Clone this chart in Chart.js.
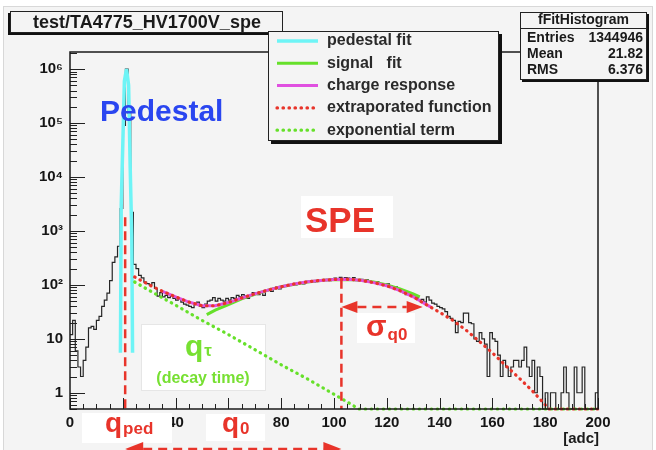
<!DOCTYPE html>
<html>
<head>
<meta charset="utf-8">
<script src="https://cdn.jsdelivr.net/npm/chart.js@4.4.1/dist/chart.umd.min.js"></script>
<style>
  html, body { margin: 0; padding: 0; background: #fff; }
</style>
</head>
<body>
<canvas id="myChart" width="656" height="450"></canvas>
<script>
// ---- data ----
// histogram, 1 adc bins from 0 to 200
const hist = [
  12, 22, 6, 3, 2, 4, 7, 16, 17, 15,
  22, 26, 40, 52, 70, 120, 260, 330, 520, 2600,
  90000, 1000000, 150000, 2200, 240, 200, 150, 135, 112, 105,
  100, 110, 86, 62, 72, 60, 64, 58, 62, 56,
  52, 54, 48, 44, 42, 40, 38, 44, 48, 40,
  38, 44, 50, 52, 58, 50, 56, 52, 50, 56,
  52, 58, 56, 64, 60, 66, 62, 56, 66, 72,
  70, 66, 74, 64, 78, 80, 76, 88, 92, 84,
  90, 96, 94, 100, 104, 100, 108, 110, 104, 112,
  116, 118, 112, 120, 116, 122, 124, 126, 120, 130,
  134, 128, 138, 132, 136, 134, 128, 136, 124, 120,
  126, 118, 124, 116, 112, 110, 114, 104, 106, 100,
  104, 96, 90, 92, 84, 80, 72, 66, 68, 64,
  66, 58, 52, 54, 48, 60, 52, 46, 44, 40,
  38, 36, 32, 26, 24, 22, 13, 21, 20, 30,
  30, 20, 19, 10, 9, 13, 10, 8, 2, 13,
  10, 9, 5, 2, 4, 3, 2, 3, 4, 4,
  3, 4, 7, 3, 2, 4, 1, 3, 2, 0,
  1, 0, 1, 1, 0, 0, 1, 3, 1, 0,
  0, 3, 1, 1, 3, 0, 0, 0, 0, 1
];
const binWidth = 1;

// pedestal fit (cyan)
const pedX = [19.1, 19.4, 20.0, 20.6, 21.4, 22.2, 22.8, 23.4, 23.7];
const pedY = [5.5, 3000, 40000, 600000, 1000000, 500000, 15000, 800, 5.5];

// signal fit (green solid)
const sigX = [51.8, 55, 60, 65, 70, 75, 80, 85, 90, 95, 100, 105, 110, 115, 120, 125, 130, 132.5];
const sigY = [28, 34, 43, 55, 67, 80, 92, 103, 113, 120, 125, 126, 122, 113, 100, 84, 68, 60];

// charge response (magenta)
const chgX = [35, 40, 45, 50, 55, 60, 65, 70, 75, 80, 85, 90, 95, 100, 105, 110, 115, 120, 125, 130, 135, 137];
const chgY = [76, 60, 48, 41, 41, 47, 57, 68, 80, 92, 104, 114, 121, 126, 127, 122, 110, 96, 78, 60, 43, 38];

// extraporated function (red dotted)
const extX = [24.5, 30, 35, 40, 45, 50, 55, 60, 65, 70, 75, 80, 85, 90, 95, 100, 105, 110, 115, 120,
              125, 130, 135, 140, 145, 150, 155, 160, 165, 170, 175, 180, 181.5, 200];
const extY = [140, 100, 76, 60, 48, 41, 41, 47, 57, 68, 80, 92, 104, 114, 121, 126, 127, 122, 110, 96,
              78, 60, 43, 31, 22, 14.5, 9, 5.5, 3.2, 1.9, 1.1, 0.6, 0.5, 0.5];

// exponential term (green dotted)
const expX = [24.5, 30, 40, 50, 60, 70, 80, 90, 100, 109.5, 200];
const expY = [113, 79, 42, 22, 12, 6.3, 3.3, 1.8, 0.94, 0.5, 0.5];

// marker lines
const qPed = 20.9, qPedTop = 1800;
const q0 = 102.8, q0Top = 124;
const sigmaQ0 = 30.8, sigmaLevel = 39;

// axes
const xMin = 0, xMax = 200, xMajor = 20, xMinor = 5;
const yMin = 0.5, yMax = 2.07e6;
const yTickValues = [1, 10, 100, 1000, 10000, 100000, 1000000];
const yTickLabels = ['1', '10', '10\u00b2', '10\u00b3', '10\u2074', '10\u2075', '10\u2076'];

const legendLabels = ['pedestal fit', 'signal   fit', 'charge response', 'extraporated function', 'exponential term'];
const statsRows = [['Entries', '1344946'], ['Mean', '21.82'], ['RMS', '6.376']];

const FONT = "'Liberation Sans', Arial, Helvetica, sans-serif";
const RED = '#e8342a';
const GREEN = '#66e02a';

function pts(xs, ys) {
  return xs.map((x, i) => ({ x: x, y: ys[i] }));
}

// histogram as steps from the low edge of each bin, empty bins sit on the frame bottom
const histPoints = hist.map((v, i) => ({ x: xMin + i * binWidth, y: Math.max(v, yMin) }));
histPoints.push({ x: xMin + hist.length * binWidth, y: Math.max(hist[hist.length - 1], yMin) });

function arrowHead(ctx, tipX, y, dir, len, half) {
  ctx.beginPath();
  ctx.moveTo(tipX, y);
  ctx.lineTo(tipX + dir * len, y - half);
  ctx.lineTo(tipX + dir * len, y + half);
  ctx.closePath();
  ctx.fill();
}

function dashedArrow(ctx, x1, x2, y, len, half) {
  ctx.save();
  ctx.strokeStyle = RED;
  ctx.fillStyle = RED;
  ctx.lineWidth = 2.5;
  ctx.setLineDash([9, 6]);
  ctx.beginPath();
  ctx.moveTo(x1 + len, y);
  ctx.lineTo(x2 - len, y);
  ctx.stroke();
  arrowHead(ctx, x1, y, 1, len, half);
  arrowHead(ctx, x2, y, -1, len, half);
  ctx.restore();
}

function subText(ctx, big, small, x, y, bigSize, smallSize, color, drop) {
  ctx.fillStyle = color;
  ctx.textBaseline = 'alphabetic';
  ctx.textAlign = 'left';
  ctx.font = 'bold ' + bigSize + 'px ' + FONT;
  ctx.fillText(big, x, y);
  const w = ctx.measureText(big).width;
  ctx.font = 'bold ' + smallSize + 'px ' + FONT;
  ctx.fillText(small, x + w + 1, y + drop);
}

const rootDeco = {
  id: 'rootDeco',
  beforeDraw(chart) {
    const ctx = chart.ctx;
    ctx.save();
    ctx.fillStyle = '#ffffff';
    ctx.fillRect(0, 0, chart.width, chart.height);
    ctx.fillStyle = '#f4f4f4';
    ctx.fillRect(3, 6, 650, 444);
    ctx.strokeStyle = '#d8d8d8';
    ctx.lineWidth = 1;
    ctx.strokeRect(3.5, 6.5, 649, 444);
    ctx.restore();
  },
  beforeDatasetsDraw(chart) {
    // white box behind the decay time label
    const ctx = chart.ctx;
    ctx.save();
    ctx.fillStyle = '#ffffff';
    ctx.fillRect(141, 324, 124, 66);
    ctx.strokeStyle = '#e6e6e6';
    ctx.strokeRect(141.5, 324.5, 124, 66);
    ctx.restore();
  },
  afterDatasetsDraw(chart) {
    const ctx = chart.ctx;
    const xs = chart.scales.x, ys = chart.scales.y, a = chart.chartArea;
    ctx.save();
    // dashed marker lines
    ctx.strokeStyle = RED;
    ctx.lineWidth = 2.5;
    ctx.setLineDash([9, 5]);
    [[qPed, qPedTop], [q0, q0Top]].forEach(([xv, top]) => {
      const px = xs.getPixelForValue(xv);
      ctx.beginPath();
      ctx.moveTo(px, ys.getPixelForValue(top));
      ctx.lineTo(px, a.bottom);
      ctx.stroke();
    });
    ctx.restore();
    dashedArrow(ctx, xs.getPixelForValue(q0), xs.getPixelForValue(q0 + sigmaQ0), ys.getPixelForValue(sigmaLevel), 16, 6);

    // frame and ROOT style inner ticks
    ctx.save();
    ctx.strokeStyle = '#222';
    ctx.lineWidth = 1;
    for (let v = xMin; v <= xMax; v += xMinor) {
      const px = Math.round(xs.getPixelForValue(v)) + 0.5;
      const len = v % xMajor === 0 ? 11 : 5;
      ctx.beginPath();
      ctx.moveTo(px, a.bottom);
      ctx.lineTo(px, a.bottom - len);
      ctx.stroke();
    }
    for (let k = -1; k <= 6; k++) {
      for (let m = 1; m <= 9; m++) {
        const v = m * Math.pow(10, k);
        if (v < yMin || v > yMax) continue;
        const py = Math.round(ys.getPixelForValue(v)) + 0.5;
        const len = m === 1 ? 15 : 7;
        ctx.beginPath();
        ctx.moveTo(a.left, py);
        ctx.lineTo(a.left + len, py);
        ctx.stroke();
      }
    }
    ctx.lineWidth = 1.5;
    ctx.strokeStyle = '#1a1a1a';
    ctx.strokeRect(a.left, a.top, a.right - a.left, a.bottom - a.top);
    ctx.restore();
  },
  afterDraw(chart) {
    const ctx = chart.ctx;
    const xs = chart.scales.x;
    ctx.save();

    // title box
    ctx.fillStyle = '#111';
    ctx.fillRect(8, 13, 273, 22);
    ctx.fillStyle = '#f4f4f4';
    ctx.fillRect(10, 11, 273, 22);
    ctx.strokeStyle = '#222';
    ctx.lineWidth = 1;
    ctx.strokeRect(10.5, 11.5, 272, 21);
    ctx.fillStyle = '#1a1a1a';
    ctx.font = 'bold 18px ' + FONT;
    ctx.textAlign = 'center';
    ctx.textBaseline = 'middle';
    ctx.fillText('test/TA4775_HV1700V_spe', 147, 23);

    // stats box
    const sx = 520, sy = 12, sw = 127, sh = 68;
    ctx.fillStyle = '#111';
    ctx.fillRect(sx + 2, sy + 2, sw, sh);
    ctx.fillStyle = '#f4f4f4';
    ctx.fillRect(sx, sy, sw, sh);
    ctx.strokeRect(sx + 0.5, sy + 0.5, sw - 1, sh - 1);
    ctx.beginPath();
    ctx.moveTo(sx, sy + 16.5);
    ctx.lineTo(sx + sw, sy + 16.5);
    ctx.stroke();
    ctx.fillStyle = '#1a1a1a';
    ctx.font = 'bold 14px ' + FONT;
    ctx.fillText('fFitHistogram', sx + sw / 2, sy + 8.5);
    statsRows.forEach((r, i) => {
      const y = sy + 26 + i * 16;
      ctx.textAlign = 'left';
      ctx.fillText(r[0], sx + 7, y);
      ctx.textAlign = 'right';
      ctx.fillText(r[1], sx + sw - 4, y);
    });

    // legend box
    const bx = 268, by = 31, bw = 231, bh = 110;
    ctx.fillStyle = '#111';
    ctx.fillRect(bx + 3, by + 3, bw, bh);
    ctx.fillStyle = '#f4f4f4';
    ctx.fillRect(bx, by, bw, bh);
    ctx.strokeStyle = '#222';
    ctx.lineWidth = 1;
    ctx.strokeRect(bx + 0.5, by + 0.5, bw - 1, bh - 1);
    legendLabels.forEach((lab, i) => {
      const ds = chart.data.datasets.find(d => d.label === lab);
      const y = by + 10 + i * 22.3;
      ctx.save();
      ctx.strokeStyle = ds.borderColor;
      ctx.lineWidth = ds.borderWidth;
      ctx.setLineDash(ds.borderDash || []);
      ctx.lineCap = ds.borderCapStyle || 'butt';
      ctx.beginPath();
      ctx.moveTo(bx + 9, y);
      ctx.lineTo(bx + 50, y);
      ctx.stroke();
      ctx.restore();
      ctx.fillStyle = '#2a2a2a';
      ctx.font = 'bold 16px ' + FONT;
      ctx.textAlign = 'left';
      ctx.textBaseline = 'middle';
      ctx.fillText(lab, bx + 59, y);
    });

    // axis title
    ctx.fillStyle = '#1a1a1a';
    ctx.font = 'bold 15px ' + FONT;
    ctx.textAlign = 'right';
    ctx.textBaseline = 'alphabetic';
    ctx.fillText('[adc]', 599, 443);

    // annotations
    ctx.fillStyle = '#2a46f0';
    ctx.font = 'bold 30px ' + FONT;
    ctx.textAlign = 'left';
    ctx.fillText('Pedestal', 100, 121);

    ctx.fillStyle = '#ffffff';
    ctx.fillRect(301, 196, 92, 42);
    ctx.fillStyle = RED;
    ctx.font = 'bold 35px ' + FONT;
    ctx.fillText('SPE', 305, 232);

    ctx.fillStyle = '#ffffff';
    ctx.fillRect(82, 413, 90, 30);
    subText(ctx, 'q', 'ped', 105, 432, 28, 17, RED, 2);

    ctx.fillStyle = '#ffffff';
    ctx.fillRect(206, 414, 59, 27);
    subText(ctx, 'q', '0', 222, 432, 28, 17, RED, 2);

    ctx.fillStyle = '#ffffff';
    ctx.fillRect(357, 313, 58, 30);
    subText(ctx, '\u03c3', 'q0', 366, 336, 30, 17, RED, 4);

    subText(ctx, 'q', '\u03c4', 185, 356, 30, 17, '#77e032', 0);
    ctx.fillStyle = '#77e032';
    ctx.font = 'bold 16px ' + FONT;
    ctx.textAlign = 'center';
    ctx.fillText('(decay time)', 203, 383);

    dashedArrow(ctx, xs.getPixelForValue(qPed), xs.getPixelForValue(q0), 449, 18, 7);
    ctx.restore();
  }
};

Chart.defaults.font.family = FONT;

const ctx = document.getElementById('myChart').getContext('2d');
const chart = new Chart(ctx, {
  type: 'line',
  data: {
    datasets: [
      { label: 'extraporated function', data: pts(extX, extY), borderColor: RED, borderWidth: 3.2,
        borderDash: [0.5, 5.5], borderCapStyle: 'round', order: 1 },
      { label: 'exponential term', data: pts(expX, expY), borderColor: GREEN, borderWidth: 3.2,
        borderDash: [0.5, 5.5], borderCapStyle: 'round', order: 2 },
      { label: 'charge response', data: pts(chgX, chgY), borderColor: '#e050e0', borderWidth: 3, order: 3 },
      { label: 'signal   fit', data: pts(sigX, sigY), borderColor: GREEN, borderWidth: 3, order: 4 },
      { label: 'pedestal fit', data: pts(pedX, pedY), borderColor: '#6ef4f6', borderWidth: 3.5,
        borderJoinStyle: 'bevel', order: 5 },
      { label: 'fFitHistogram', data: histPoints, borderColor: '#262626', borderWidth: 1.2, stepped: true, order: 6 }
    ]
  },
  options: {
    responsive: false,
    animation: false,
    devicePixelRatio: 1,
    elements: { point: { radius: 0 }, line: { tension: 0 } },
    datasets: { line: { clip: false, fill: false } },
    layout: { padding: { left: 0, right: 58, top: 52, bottom: 0 } },
    plugins: { legend: { display: false }, tooltip: { enabled: false } },
    scales: {
      x: {
        type: 'linear', min: xMin, max: xMax,
        grid: { display: false, drawTicks: false },
        border: { display: false },
        ticks: { stepSize: xMajor, padding: 5, color: '#151515', autoSkip: false, maxRotation: 0,
                 font: { size: 15, weight: 'bold' } },
        afterFit: s => { s.height = 41; }
      },
      y: {
        type: 'logarithmic', min: yMin, max: yMax,
        grid: { display: false, drawTicks: false },
        border: { display: false },
        afterBuildTicks: s => { s.ticks = yTickValues.map(v => ({ value: v })); },
        ticks: { callback: (v, i) => yTickLabels[i], padding: 7, color: '#151515', autoSkip: false,
                 font: { size: 15, weight: 'bold' } },
        afterFit: s => { s.width = 70; }
      }
    }
  },
  plugins: [rootDeco]
});
</script>
</body>
</html>
